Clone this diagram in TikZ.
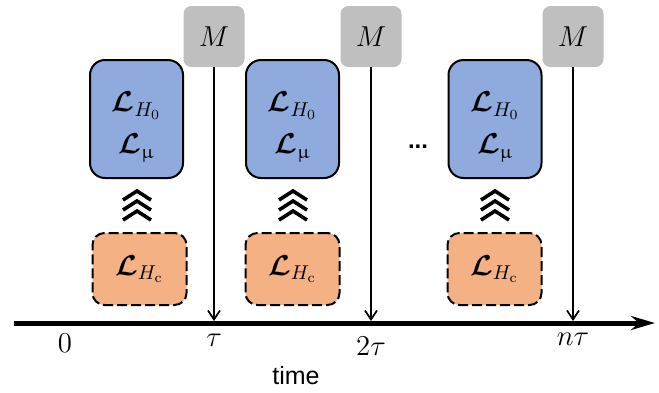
\documentclass[tikz,border=0pt]{standalone}
\usepackage{amsmath,bm,upgreek}
\usepackage{fontspec}
\newfontfamily\labelfont{Liberation Sans}
\usetikzlibrary{arrows.meta}

\definecolor{lindblue}{HTML}{8FAADC}
\definecolor{ctrlorange}{HTML}{F4B183}
\definecolor{measgray}{HTML}{BFBFBF}

\newcommand{\lindtext}{\rule{0pt}{18pt}$\boldsymbol{\mathcal{L}}_{H_0}$\\$\boldsymbol{\mathcal{L}}_{\upmu}$}
\newcommand{\ctrltext}{$\boldsymbol{\mathcal{L}}_{H_{\mathrm{c}}}$}

\tikzset{
  lind/.style={draw, line width=1pt, fill=lindblue, rounded corners=7.5pt,
    minimum width=46.5pt, minimum height=59pt, align=center, inner sep=0pt},
  ctrl/.style={draw, line width=1pt, dash pattern=on 5pt off 2pt, fill=ctrlorange,
    rounded corners=6pt, minimum width=47pt, minimum height=36pt, inner sep=0pt},
  meas/.style={fill=measgray, rounded corners=4pt, minimum size=30.5pt, inner sep=0pt},
  chev/.style={line width=1.8pt, line join=miter},
  probe/.style={line width=0.85pt, -{Straight Barb[length=4.5pt, width=6pt]}}
}

\begin{document}
\begin{tikzpicture}[x=0.5pt, y=-0.5pt, font=\fontsize{14}{21}\selectfont]
            \useasboundingbox (0,0) rectangle (659,392);

            % Draw the time axis
            \coordinate (start) at (14,323);
            \coordinate (stop) at (655,323);
            \draw[line width=2.5pt, -{Stealth[length=12pt, width=7pt, inset=4pt]}] (start) -- (stop);

            \node (t0) at (65,343) {$0$};
            \node (t1) at (214,340) {$\tau$};
            \node (t2) at (371,346) {$2\tau$};
            \node (tn) at (573,339) {$n\tau$};
            \node[font=\labelfont\fontsize{12.5}{14}\selectfont] (time) at (296,376) {time};

            % Draw the dissipative blocks
            \node[lind] (lind1) at (136.5,119) {\lindtext};
            \node[lind] (lind2) at (292.5,119) {\lindtext};
            \node[lind] (lind3) at (495,119) {\lindtext};

            \node[font=\labelfont\bfseries\fontsize{12}{14}\selectfont] (dots) at (418,147) {...};

            % Draw the control blocks
            \node[ctrl] (ctrl1) at (139.5,269) {\ctrltext};
            \node[ctrl] (ctrl2) at (292.5,269) {\ctrltext};
            \node[ctrl] (ctrl3) at (494.5,269) {\ctrltext};

            % Draw the chevrons between the blocks
            \draw[chev] (137-14,200) -- (137,191) -- (137+14,200);
            \draw[chev] (137-14,210) -- (137,201) -- (137+14,210);
            \draw[chev] (137-14,220) -- (137,211) -- (137+14,220);

            \draw[chev] (293-14,200) -- (293,191) -- (293+14,200);
            \draw[chev] (293-14,210) -- (293,201) -- (293+14,210);
            \draw[chev] (293-14,220) -- (293,211) -- (293+14,220);

            \draw[chev] (495-14,200) -- (495,191) -- (495+14,200);
            \draw[chev] (495-14,210) -- (495,201) -- (495+14,210);
            \draw[chev] (495-14,220) -- (495,211) -- (495+14,220);

            % Draw the measurements and their probes
            \node[meas] (m1) at (214,36.5) {$M$};
            \node[meas] (m2) at (371,36.5) {$M$};
            \node[meas] (m3) at (573,36.5) {$M$};

            \coordinate (hit1) at (214,321);
            \coordinate (hit2) at (371,321);
            \coordinate (hit3) at (573,321);

            \draw[probe] (m1) -- (hit1);
            \draw[probe] (m2) -- (hit2);
            \draw[probe] (m3) -- (hit3);

\end{tikzpicture}
\end{document}
